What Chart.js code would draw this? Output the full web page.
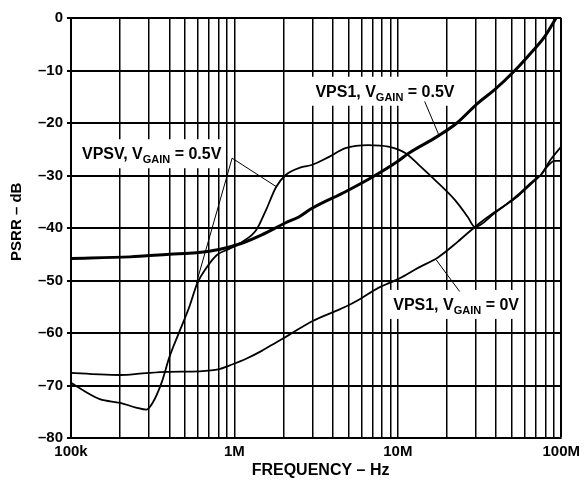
<!DOCTYPE html>
<html lang="en">
<head>
<meta charset="utf-8" />
<script src="https://cdn.jsdelivr.net/npm/chart.js@4.4.1/dist/chart.umd.min.js"></script>
<style>
  html, body { margin: 0; padding: 0; background: #fff; }
</style>
<title>PSRR vs Frequency</title>
</head>
<body>
<canvas id="psrr" width="585" height="480"></canvas>
<script>
// frequency (Hz) and PSRR (dB)
const fVps1Half = [1e5, 2.29e5, 4e5, 5.85e5, 8.07e5, 1.11e6, 1.47e6, 2.06e6, 2.48e6, 2.97e6, 4.78e6, 7e6, 1e7, 1.16e7, 1.76e7, 2.3e7, 3.09e7, 3.9e7, 5.2e7, 6.5e7, 7.9e7, 9.3e7];
const dbVps1Half = [-45.8, -45.5, -45.0, -44.7, -44.1, -42.9, -41.3, -39.0, -37.9, -36.3, -33.1, -30.3, -27.3, -25.8, -22.5, -20.0, -16.2, -13.7, -10.0, -6.7, -3.6, 0];

const fVpsv = [1e5, 1.5e5, 2e5, 2.5e5, 2.9e5, 3.16e5, 3.58e5, 4e5, 4.6e5, 5.3e5, 5.93e5, 6.73e5, 7.85e5, 9.3e5, 1.11e6, 1.36e6, 1.56e6, 1.8e6, 2.06e6, 2.58e6, 2.97e6, 3.77e6, 4.78e6, 6.6e6, 8.74e6, 1.11e7, 1.39e7, 1.76e7, 2.24e7, 2.68e7, 2.96e7, 3.9e7, 5.2e7, 6.86e7, 7.5e7, 8.6e7, 1e8];
const dbVpsv = [-69.5, -72.6, -73.3, -74.2, -74.6, -73.3, -69.5, -64.6, -59.8, -55.0, -50.5, -47.6, -45.1, -44.0, -42.7, -40.4, -36.6, -32.2, -29.9, -28.4, -28.0, -26.5, -24.8, -24.2, -24.5, -25.7, -28.4, -31.4, -34.7, -37.9, -39.8, -37.2, -34.2, -30.8, -29.9, -27.0, -24.5];

const fVps1Zero = [1e5, 1.5e5, 2e5, 2.74e5, 3.84e5, 6.1e5, 8.07e5, 9.3e5, 1.18e6, 1.47e6, 1.8e6, 2.15e6, 2.97e6, 4.78e6, 5.74e6, 7.6e6, 1.01e7, 1.33e7, 1.76e7, 2.33e7, 2.96e7, 3.9e7, 5.2e7, 6.86e7, 7.5e7, 8.2e7, 9.1e7, 1e8];
const dbVps1Zero = [-67.6, -67.9, -68.0, -67.7, -67.4, -67.3, -66.9, -66.2, -64.9, -63.4, -61.8, -60.4, -57.8, -55.0, -53.7, -51.4, -49.7, -47.6, -45.6, -42.6, -39.8, -37.0, -34.4, -31.0, -29.9, -28.3, -27.2, -27.2];

// axes
const decades = [1e5, 1e6, 1e7];
const xGrid = [];
decades.forEach(d => { for (let m = 1; m <= 9; m++) xGrid.push(m * d); });
xGrid.push(1e8);
const xLabels = { 100000: "100k", 1000000: "1M", 10000000: "10M", 100000000: "100M" };

// curve labels and their leader lines (data coordinates)
const curveLabels = [
  { pre: "VPSV, V", sub: "GAIN", post: " = 0.5V", at: [1.167e5, -26.9] },
  { pre: "VPS1, V", sub: "GAIN", post: " = 0.5V", at: [3.13e6, -15.0] },
  { pre: "VPS1, V", sub: "GAIN", post: " = 0V", at: [9.37e6, -55.6] }
];
const leaders = [
  [[9.68e5, -26.7], [1.82e6, -32.2]],
  [[9.68e5, -26.7], [5.85e5, -50.5]],
  [[1.46e7, -15.9], [1.8e7, -22.6]],
  [[2.39e7, -52.1], [1.72e7, -46.1]]
];

const FAMILY = "'Liberation Sans', Arial, Helvetica, sans-serif";

function pts(fs, dbs) {
  return fs.map((f, i) => ({ x: f, y: dbs[i] }));
}

const labelPlugin = {
  id: "curveLabels",
  beforeDatasetsDraw(chart) {
    const { ctx, scales: { x, y } } = chart;
    ctx.save();
    const big = "bold 16px " + FAMILY, small = "bold 11px " + FAMILY;
    curveLabels.forEach(l => {
      const px = x.getPixelForValue(l.at[0]);
      const py = y.getPixelForValue(l.at[1]);
      ctx.font = big;
      const w1 = ctx.measureText(l.pre).width, w3 = ctx.measureText(l.post).width;
      ctx.font = small;
      const w2 = ctx.measureText(l.sub).width;
      const w = w1 + w2 + w3;
      // white box hides the grid behind the text
      ctx.fillStyle = "#fff";
      ctx.fillRect(px - 5, py - 20, w + 9, 29);
      ctx.fillStyle = "#000";
      ctx.textBaseline = "alphabetic";
      ctx.textAlign = "left";
      ctx.font = big;
      ctx.fillText(l.pre, px, py);
      ctx.font = small;
      ctx.fillText(l.sub, px + w1, py + 4);
      ctx.font = big;
      ctx.fillText(l.post, px + w1 + w2, py);
    });
    ctx.restore();
  },
  afterDatasetsDraw(chart) {
    const { ctx, scales: { x, y } } = chart;
    ctx.save();
    ctx.strokeStyle = "#000";
    ctx.lineWidth = 1;
    leaders.forEach(([a, b]) => {
      ctx.beginPath();
      ctx.moveTo(x.getPixelForValue(a[0]), y.getPixelForValue(a[1]));
      ctx.lineTo(x.getPixelForValue(b[0]), y.getPixelForValue(b[1]));
      ctx.stroke();
    });
    ctx.restore();
  }
};

new Chart(document.getElementById("psrr").getContext("2d"), {
  type: "line",
  data: {
    datasets: [
      { label: "VPS1, VGAIN = 0.5V", data: pts(fVps1Half, dbVps1Half), borderColor: "#000", borderWidth: 3 },
      { label: "VPSV, VGAIN = 0.5V", data: pts(fVpsv, dbVpsv), borderColor: "#000", borderWidth: 1.8 },
      { label: "VPS1, VGAIN = 0V", data: pts(fVps1Zero, dbVps1Zero), borderColor: "#000", borderWidth: 1.8 }
    ]
  },
  options: {
    responsive: false,
    animation: false,
    devicePixelRatio: 1,
    layout: { padding: { left: 0, right: 21, top: 18, bottom: 0 } },
    elements: { point: { radius: 0 }, line: { cubicInterpolationMode: "monotone", fill: false } },
    plugins: { legend: { display: false }, tooltip: { enabled: false } },
    scales: {
      x: {
        type: "logarithmic",
        min: 1e5,
        max: 1e8,
        afterBuildTicks: scale => { scale.ticks = xGrid.map(v => ({ value: v })); },
        afterFit: scale => { scale.height = 42; },
        ticks: {
          autoSkip: false,
          maxRotation: 0,
          minRotation: 0,
          padding: 5,
          color: "#000",
          font: { family: FAMILY, size: 15, weight: "bold" },
          callback: v => xLabels[v] || ""
        },
        grid: {
          color: "#000",
          lineWidth: c => (c.tick && c.tick.value === 1e8 ? 2 : 1.5),
          drawTicks: false
        },
        border: { color: "#000", width: 2 },
        title: {
          display: true,
          text: "  FREQUENCY \u2013 Hz",
          color: "#000",
          padding: { top: 0, bottom: 0 },
          font: { family: FAMILY, size: 16, weight: "bold" }
        }
      },
      y: {
        min: -80,
        max: 0,
        afterFit: scale => { scale.width = 71; },
        ticks: {
          stepSize: 10,
          padding: 4,
          color: "#000",
          font: { family: FAMILY, size: 15, weight: "bold" },
          callback: v => (v === 0 ? "0" : "\u2013" + Math.abs(v))
        },
        grid: { color: "#000", lineWidth: 2, tickLength: 4 },
        border: { color: "#000", width: 2 },
        title: {
          display: true,
          text: "   PSRR \u2013 dB",
          color: "#000",
          padding: { top: 8, bottom: 0 },
          font: { family: FAMILY, size: 15, weight: "bold" }
        }
      }
    }
  },
  plugins: [labelPlugin]
});
</script>
</body>
</html>
